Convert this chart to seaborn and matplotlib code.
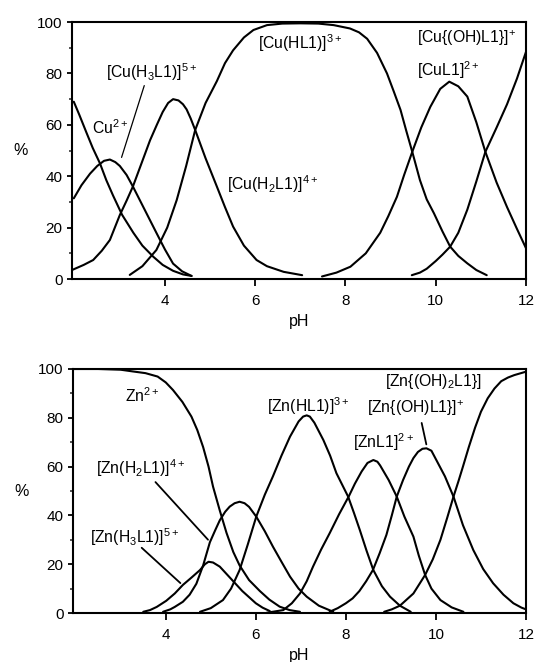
import matplotlib
matplotlib.use('Agg')
import matplotlib.pyplot as plt
import seaborn as sns
import numpy as np

# Cu(II) species distribution (pH, %)
cu_free_ph = [1.98, 2.1, 2.26, 2.4, 2.56, 2.7, 2.85, 3.05, 3.3, 3.5, 3.74, 3.95, 4.18, 4.4, 4.59]
cu_free = [69, 64, 57, 51, 45, 38.5, 32.5, 25, 18, 13, 8.7, 5.5, 3.2, 1.8, 1.2]
cu_h3l_ph = [1.98, 2.15, 2.34, 2.5, 2.65, 2.78, 2.9, 3.0, 3.15, 3.29, 3.42, 3.55, 3.68, 3.81,
             4.0, 4.18, 4.38, 4.59]
cu_h3l = [31.4, 36.5, 41, 44, 46, 46.5, 45.5, 44, 40.5, 36, 31.5, 27, 22.5, 18,
          11.5, 6, 3, 1.2]
cu_h2l_ph = [1.94, 2.2, 2.41, 2.6, 2.78, 3.0, 3.15, 3.29, 3.48, 3.67, 3.82, 3.95, 4.07, 4.18,
             4.3, 4.4, 4.48, 4.57, 4.67, 4.9, 5.15, 5.33, 5.51, 5.75, 6.03, 6.26, 6.63, 7.04]
cu_h2l = [3.5, 5.5, 7.4, 11, 15.2, 24.9, 30.5, 36, 45, 54, 60, 65, 68.5, 70,
          69.5, 68, 66, 62.5, 58, 47, 36, 28, 20.4, 13, 7.4, 5, 2.8, 1.5]
cu_hl_ph = [3.22, 3.5, 3.81, 4.05, 4.26, 4.47, 4.67, 4.9, 5.15, 5.33, 5.51, 5.75, 5.96, 6.26,
            6.6, 7.0, 7.4, 7.74, 8.1, 8.3, 8.48, 8.7, 8.92, 9.07, 9.22, 9.35, 9.48, 9.65,
            9.8, 9.96, 10.15, 10.32, 10.5, 10.7, 10.9, 11.13]
cu_hl = [1.6, 5, 11.3, 20, 30.7, 44, 58, 68.5, 77, 84, 89, 94, 96.9, 98.8,
         99.4, 99.5, 99.4, 98.8, 97.5, 96, 93.5, 88, 80, 73, 65.8, 57.5, 49.5, 38.5,
         31, 25.6, 18.5, 12.6, 9, 6.1, 3.5, 1.5]
cu_l_ph = [7.48, 7.8, 8.11, 8.45, 8.77, 8.95, 9.14, 9.3, 9.48, 9.68, 9.88, 10.1, 10.3, 10.5,
           10.7, 10.9, 11.1, 11.35, 11.58, 11.8, 12.0]
cu_l = [1, 2.5, 4.8, 10, 18, 24.5, 32, 40.5, 49.5, 59, 67, 74, 76.8, 75,
        71, 61, 49.5, 37.5, 28, 19.5, 12]
cu_ohl_ph = [9.47, 9.65, 9.8, 10.0, 10.15, 10.32, 10.5, 10.7, 10.9, 11.1, 11.35, 11.58, 11.8, 12.0]
cu_ohl = [1.5, 2.5, 4, 7, 9.5, 12.6, 18, 27, 38, 49.5, 59, 68, 78, 88.4]

# Zn(II) species distribution (pH, %)
zn_free_ph = [1.94, 2.5, 3.0, 3.27, 3.55, 3.82, 4.0, 4.16, 4.37, 4.57, 4.7, 4.83, 4.95, 5.05,
              5.2, 5.35, 5.5, 5.64, 5.85, 6.09, 6.3, 6.53, 6.75, 6.98]
zn_free = [100, 100, 99.7, 99, 98.3, 96.9, 94.5, 91.4, 86.5, 80.5, 75, 68, 60, 51.8,
           42, 32.8, 25, 19.5, 13.5, 9, 5.5, 2.6, 1.2, 0.5]
zn_h3l_ph = [3.5, 3.65, 3.8, 4.01, 4.2, 4.38, 4.57, 4.76, 4.87, 4.95, 5.05, 5.2, 5.4, 5.55,
             5.7, 5.85, 6.0, 6.15, 6.31]
zn_h3l = [0.5, 1.2, 2.5, 5, 8, 11.5, 14.5, 17.6, 20, 21, 20.7, 19, 15, 12,
          9, 6.5, 4, 2.2, 0.8]
zn_h2l_ph = [3.94, 4.1, 4.2, 4.38, 4.53, 4.68, 4.83, 4.98, 5.1, 5.2, 5.32, 5.42, 5.53, 5.64,
             5.75, 5.85, 6.01, 6.2, 6.38, 6.57, 6.76, 6.95, 7.13, 7.4, 7.72]
zn_h2l = [0.5, 1.5, 2.5, 4.6, 7.5, 12, 19.5, 29, 34, 38, 41.5, 43.6, 45, 45.6,
          45, 43.5, 39.5, 33.5, 27.2, 21, 14.9, 10, 6.7, 3, 0.5]
zn_hl_ph = [4.76, 5.0, 5.27, 5.45, 5.64, 5.82, 6.01, 6.2, 6.38, 6.57, 6.76, 6.95, 7.05, 7.13,
            7.2, 7.3, 7.5, 7.65, 7.79, 7.92, 8.05, 8.18, 8.31, 8.46, 8.61, 8.8, 8.98, 9.2, 9.44]
zn_hl = [0.5, 2, 5.3, 10, 17.6, 28, 39.5, 48.5, 56, 64.5, 72.3, 78.5, 80.5, 81,
         80.5, 78, 70.9, 64.5, 57.3, 52.5, 47.7, 41, 34, 25.5, 17.6, 11, 6.7, 3, 0.5]
zn_l_ph = [6.24, 6.61, 6.8, 6.98, 7.13, 7.27, 7.45, 7.64, 7.85, 8.07, 8.2, 8.35, 8.48, 8.61,
           8.7, 8.76, 8.95, 9.13, 9.3, 9.5, 9.62, 9.76, 9.9, 10.1, 10.35, 10.61]
zn_l = [0.1, 1.2, 4, 8, 13, 19, 26, 32.7, 40.5, 48, 53, 58, 61.5, 62.7,
        62, 60.5, 54.5, 47.7, 39.5, 31.3, 23.5, 15.6, 10, 5.3, 2.3, 0.5]
zn_ohl_ph = [7.64, 7.82, 8.0, 8.15, 8.3, 8.45, 8.6, 8.75, 8.9, 9.02, 9.13, 9.27, 9.4, 9.5,
             9.6, 9.7, 9.79, 9.9, 10.0, 10.2, 10.39, 10.6, 10.83, 11.05, 11.27, 11.5, 11.72,
             11.9, 12.0]
zn_ohl = [0.5, 2, 4, 6, 9, 13, 17.6, 24.5, 32, 40, 47.7, 54.5, 60, 63.5,
          66, 67.3, 67.5, 66.5, 63, 56, 47.7, 36, 25.8, 18, 12.2, 7.5, 4,
          2.2, 1.5]
zn_oh2l_ph = [8.85, 9.02, 9.2, 9.35, 9.5, 9.76, 9.93, 10.1, 10.25, 10.39, 10.5, 10.6, 10.73,
              10.87, 11.0, 11.15, 11.3, 11.45, 11.6, 11.74, 12.0]
zn_oh2l = [0.5, 1.5, 3, 5.5, 8, 15.6, 22, 30, 39, 47.7, 54, 60, 68,
           76, 82.5, 88, 92, 95, 96.5, 97.5, 98.9]

sns.set_style('ticks')
plt.rcParams['font.family'] = ['Liberation Sans', 'DejaVu Sans']
plt.rcParams['mathtext.default'] = 'regular'
plt.rcParams['text.color'] = 'black'
plt.rcParams['axes.labelcolor'] = 'black'

fig = plt.figure(figsize=(5.34, 6.62), dpi=100)
ax1 = fig.add_axes([0.1348, 0.5785, 0.8502, 0.3882])
ax2 = fig.add_axes([0.1367, 0.0740, 0.8483, 0.3686])

cu_curves = [(cu_free_ph, cu_free), (cu_h3l_ph, cu_h3l), (cu_h2l_ph, cu_h2l),
             (cu_hl_ph, cu_hl), (cu_l_ph, cu_l), (cu_ohl_ph, cu_ohl)]
zn_curves = [(zn_free_ph, zn_free), (zn_h3l_ph, zn_h3l), (zn_h2l_ph, zn_h2l), (zn_hl_ph, zn_hl),
             (zn_l_ph, zn_l), (zn_ohl_ph, zn_ohl), (zn_oh2l_ph, zn_oh2l)]

for ax, curves in [(ax1, cu_curves), (ax2, zn_curves)]:
    for xs, ys in curves:
        sns.lineplot(x=xs, y=ys, ax=ax, color='black', linewidth=1.5, estimator=None, sort=False,
                     solid_joinstyle='round', solid_capstyle='round')
    ax.set_xlim(1.94, 12)
    ax.set_ylim(0, 100)
    ax.set_xticks([4, 6, 8, 10, 12])
    ax.set_yticks([0, 20, 40, 60, 80, 100])
    ax.set_yticks(np.arange(10, 100, 20), minor=True)
    ax.tick_params(axis='both', which='major', direction='out', width=1.3,
                   labelsize=11, colors='black')
    ax.tick_params(axis='x', which='major', length=5, pad=6)
    ax.tick_params(axis='y', which='major', length=3.8, pad=3)
    ax.tick_params(axis='y', which='minor', direction='out', length=2.5, width=1.1)
    for s in ax.spines.values():
        s.set_linewidth(1.5)
        s.set_color('black')
    ax.set_xlabel('pH', fontsize=11.5, labelpad=4)
    ax.set_ylabel('%', fontsize=11.5, rotation=0, labelpad=12, va='center')

fs = 11.3
# Cu labels
ax1.text(2.7, 80.5, r'[Cu(H$_3$L1)]$^{5+}$', fontsize=fs, va='center')
ax1.annotate('', xy=(3.02, 46.3), xytext=(3.56, 76.3),
             arrowprops=dict(arrowstyle='-', color='black', lw=0.9))
ax1.text(2.38, 59, r'Cu$^{2+}$', fontsize=fs, va='center')
ax1.text(6.06, 91.8, r'[Cu(HL1)]$^{3+}$', fontsize=fs, va='center')
ax1.text(5.37, 37, r'[Cu(H$_2$L1)]$^{4+}$', fontsize=fs, va='center')
ax1.text(9.59, 93.6, r'[Cu{(OH)L1}]$^{+}$', fontsize=fs, va='center')
ax1.text(9.59, 81.3, r'[CuL1]$^{2+}$', fontsize=fs, va='center')

# Zn labels
ax2.text(3.09, 88.9, r'Zn$^{2+}$', fontsize=fs, va='center')
ax2.text(2.46, 59.4, r'[Zn(H$_2$L1)]$^{4+}$', fontsize=fs, va='center')
ax2.annotate('', xy=(4.98, 29.2), xytext=(3.73, 54.5),
             arrowprops=dict(arrowstyle='-', color='black', lw=1.3))
ax2.text(2.31, 31, r'[Zn(H$_3$L1)]$^{5+}$', fontsize=fs, va='center')
ax2.annotate('', xy=(4.37, 11.5), xytext=(3.42, 27.5),
             arrowprops=dict(arrowstyle='-', color='black', lw=1.3))
ax2.text(6.24, 84.8, r'[Zn(HL1)]$^{3+}$', fontsize=fs, va='center')
ax2.text(8.15, 70, r'[ZnL1]$^{2+}$', fontsize=fs, va='center')
ax2.text(8.47, 84, r'[Zn{(OH)L1}]$^{+}$', fontsize=fs, va='center')
ax2.annotate('', xy=(9.8, 68), xytext=(9.67, 79),
             arrowprops=dict(arrowstyle='-', color='black', lw=1.3))
ax2.text(8.88, 94.7, r'[Zn{(OH)$_2$L1}]', fontsize=fs, va='center')

fig.savefig('out.png', dpi=100)
